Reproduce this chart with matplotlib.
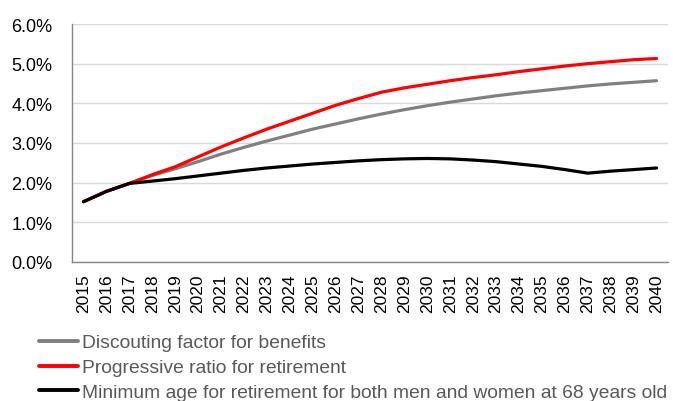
import matplotlib
matplotlib.use("Agg")
import matplotlib.pyplot as plt
from matplotlib.ticker import PercentFormatter

years = list(range(2015, 2041))

discounting = [1.52, 1.78, 1.98, 2.18, 2.35, 2.53, 2.72, 2.89, 3.05, 3.20, 3.35,
               3.48, 3.61, 3.73, 3.84, 3.94, 4.03, 4.11, 4.19, 4.26, 4.32, 4.38,
               4.44, 4.49, 4.53, 4.57]
progressive = [1.52, 1.78, 1.98, 2.20, 2.40, 2.65, 2.90, 3.13, 3.35, 3.55, 3.75,
               3.95, 4.12, 4.28, 4.39, 4.48, 4.57, 4.65, 4.72, 4.80, 4.87, 4.94,
               5.00, 5.05, 5.10, 5.13]
min_age = [1.52, 1.78, 1.98, 2.04, 2.10, 2.17, 2.24, 2.31, 2.37, 2.42, 2.47,
           2.51, 2.55, 2.58, 2.60, 2.61, 2.60, 2.57, 2.53, 2.47, 2.41, 2.33,
           2.24, 2.29, 2.33, 2.37]

labels = ["Discouting factor for benefits",
          "Progressive ratio for retirement",
          "Minimum age for retirement for both men and women at 68 years old"]
colors = ["#808080", "#ff0000", "#000000"]

plt.rcParams['font.family'] = ['Liberation Sans', 'DejaVu Sans']

fig = plt.figure(figsize=(6.73, 4.02), dpi=100)
ax = fig.add_axes([72 / 673, 1 - 263 / 402, (668 - 72) / 673, (263 - 25) / 402])

x = list(range(len(years)))
handles = []
for series, col in zip([discounting, progressive, min_age], colors):
    h, = ax.plot(x, series, color=col, linewidth=2.3, solid_capstyle='round')
    handles.append(h)

ax.set_xlim(-0.5, len(years) - 0.5)
ax.set_ylim(0, 6)
ax.set_yticks([0, 1, 2, 3, 4, 5, 6])
ax.yaxis.set_major_formatter(PercentFormatter(decimals=1))
ax.set_xticks(x)
ax.set_xticklabels([str(y) for y in years], rotation=90, fontsize=12.5)
ax.tick_params(axis='y', labelsize=13, length=0, pad=14)
ax.tick_params(axis='x', length=0, pad=8)
ax.grid(axis='y', color='#d9d9d9', linewidth=1)
ax.set_axisbelow(True)
for s in ['top', 'right']:
    ax.spines[s].set_visible(False)
for s in ['left', 'bottom']:
    ax.spines[s].set_color('#868686')
    ax.spines[s].set_linewidth(1)

leg = fig.legend(handles, labels, loc='upper left', bbox_to_anchor=(39 / 673, 1 - 335 / 402),
                 frameon=False, prop={'size': 13.85},
                 handlelength=2.05, handletextpad=0.2, labelspacing=0.38,
                 borderaxespad=0, borderpad=0)
for t in leg.get_texts():
    t.set_color('#595959')
for l in leg.get_lines():
    l.set_linewidth(2.8)

fig.savefig("out.png", dpi=100)
